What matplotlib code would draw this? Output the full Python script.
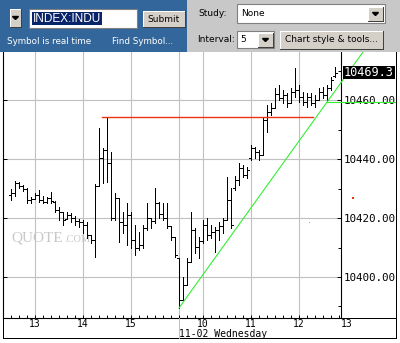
import matplotlib
matplotlib.use("Agg")
import matplotlib.pyplot as plt
from matplotlib.patches import Rectangle, Polygon
from matplotlib.lines import Line2D
import numpy as np

W, H = 400, 343

# 5-minute OHLC bars, 11-01 from 12:30 to 16:00
prev_open = [10427.8, 10428.5, 10431.9, 10430.8, 10429.8, 10426.1, 10426.4, 10427.8, 10426.1, 10425.4,
             10426.8, 10425.4, 10422.7, 10422.0, 10419.7, 10421.0, 10420.0, 10419.0, 10418.6, 10417.6,
             10414.2, 10412.6, 10430.8, 10440.3, 10443.0, 10438.6, 10420.0, 10426.8, 10418.6, 10417.6,
             10421.0, 10412.6, 10409.8, 10410.8, 10416.6, 10420.0, 10419.0, 10425.1, 10421.4, 10420.0,
             10417.3, 10413.6]
prev_high = [10429.8, 10432.5, 10432.2, 10431.2, 10430.2, 10427.1, 10428.5, 10429.5, 10427.5, 10427.1,
             10428.8, 10425.8, 10423.7, 10422.0, 10422.0, 10421.7, 10420.7, 10419.7, 10419.3, 10418.6,
             10414.2, 10431.5, 10450.5, 10443.7, 10454.2, 10442.4, 10428.5, 10426.8, 10422.0, 10425.1,
             10422.0, 10417.6, 10415.2, 10417.6, 10425.1, 10420.0, 10430.2, 10425.4, 10425.1, 10425.1,
             10417.3, 10413.6]
prev_low = [10426.1, 10427.5, 10430.2, 10429.2, 10425.1, 10425.1, 10426.4, 10425.4, 10425.1, 10425.1,
            10425.1, 10422.0, 10419.3, 10417.6, 10419.7, 10418.6, 10417.6, 10416.9, 10414.9, 10413.2,
            10411.5, 10406.8, 10430.8, 10431.9, 10432.2, 10419.3, 10419.3, 10411.9, 10414.9, 10410.8,
            10409.8, 10407.5, 10409.2, 10409.8, 10415.9, 10416.6, 10418.3, 10420.0, 10419.3, 10416.6,
            10412.6, 10406.8]
prev_close = [10428.5, 10431.9, 10430.8, 10429.8, 10426.1, 10426.4, 10427.8, 10426.1, 10425.4, 10426.8,
              10425.8, 10422.7, 10422.0, 10419.3, 10421.0, 10420.0, 10419.0, 10418.6, 10417.6, 10414.2,
              10412.6, 10430.8, 10440.3, 10443.0, 10438.6, 10420.0, 10426.8, 10418.6, 10417.6, 10421.0,
              10412.6, 10409.8, 10410.8, 10416.6, 10420.0, 10419.0, 10425.1, 10421.4, 10420.0, 10417.3,
              10413.6, 10407.5]

# 5-minute OHLC bars, 11-02 from 9:30
day_open = [10406.4, 10392.1, 10397.3, 10405.1, 10415.9, 10410.2, 10412.2, 10417.6, 10414.2, 10415.2,
            10415.9, 10417.3, 10419.3, 10426.1, 10430.2, 10432.9, 10437.0, 10434.6, 10440.3, 10443.7,
            10442.4, 10441.4, 10453.2, 10455.9, 10457.3, 10462.0, 10460.7, 10461.7, 10459.0, 10462.7,
            10463.4, 10461.0, 10459.3, 10461.0, 10459.0, 10460.0, 10462.7, 10461.7, 10464.1, 10468.1]
day_high = [10406.4, 10400.0, 10406.4, 10422.0, 10416.6, 10413.6, 10419.3, 10420.0, 10417.6, 10416.9,
            10418.6, 10420.0, 10433.9, 10430.2, 10434.2, 10438.6, 10438.0, 10437.3, 10444.7, 10444.1,
            10443.0, 10454.2, 10458.3, 10459.0, 10464.1, 10465.1, 10463.4, 10462.4, 10464.1, 10470.8,
            10465.1, 10462.7, 10462.4, 10462.4, 10461.7, 10464.1, 10464.4, 10465.1, 10467.8, 10471.2]
day_low = [10389.5, 10392.1, 10397.3, 10405.1, 10408.1, 10406.4, 10411.5, 10412.6, 10413.2, 10408.5,
           10412.6, 10414.9, 10419.3, 10416.6, 10429.5, 10431.2, 10433.9, 10433.6, 10439.7, 10440.3,
           10439.7, 10441.4, 10449.2, 10454.9, 10457.3, 10460.0, 10459.0, 10457.6, 10459.0, 10461.0,
           10459.3, 10458.3, 10457.6, 10458.3, 10457.6, 10460.0, 10460.7, 10459.3, 10463.4, 10467.8]
day_close = [10392.1, 10397.3, 10405.1, 10415.9, 10410.2, 10412.2, 10417.6, 10414.2, 10415.2, 10415.9,
             10417.3, 10419.3, 10426.1, 10417.6, 10432.9, 10437.0, 10434.6, 10436.3, 10443.7, 10442.4,
             10441.4, 10453.2, 10455.9, 10457.3, 10462.0, 10460.7, 10461.7, 10459.0, 10462.7, 10463.4,
             10461.0, 10459.3, 10461.0, 10459.0, 10460.0, 10462.7, 10461.7, 10464.1, 10466.8, 10469.3]

last_price = 10469.3
resistance = 10454.3                  # red line, from the 14:15 spike high
resistance_span = (7.896, 12.29)      # 11-01 14:24 -> 11-02 12:17 on the session axis
trend_from = (9.5, 10389.5)           # green trend line through the open low
trend_to = (12.583, 10459.3)          # ...and the 12:35 low
support = 10459.3

hour_ticks = [6.5, 7.5, 8.5, 10, 11, 12]
hour_labels = ["13", "14", "15", "10", "11", "12"]
price_ticks = [10400, 10420, 10440, 10460]

# session axis: 11-01 16:00 joins 11-02 9:30, so shift yesterday by 6.5 h
prev_t = 12.5 - 6.5 + np.arange(len(prev_open)) / 12
day_t = 9.5 + np.arange(len(day_open)) / 12


def fx(x):
    return x / W


def fy(y):
    return 1 - y / H


fig = plt.figure(figsize=(W / 100, H / 100), dpi=100)
fig.patch.set_facecolor("white")


def box(x0, y0, x1, y1, fc, ec=None, lw=0.0, z=1):
    fig.patches.append(Rectangle((fx(x0), fy(y1)), fx(x1 - x0), (y1 - y0) / H,
                                 transform=fig.transFigure, facecolor=fc,
                                 edgecolor=ec if ec else fc, linewidth=lw, zorder=z))


def fline(xs, ys, color, lw=0.72, z=3):
    fig.lines.append(Line2D([fx(x) for x in xs], [fy(y) for y in ys], transform=fig.transFigure,
                            color=color, linewidth=lw, zorder=z, antialiased=False))


def ftext(x, y, s, size=7, color="black", ha="left", family="DejaVu Sans", z=5, **kw):
    fig.text(fx(x), fy(y), s, fontsize=size, color=color, ha=ha, va="center",
             family=family, zorder=z, **kw)


def button(x0, y0, x1, y1):
    box(x0, y0, x1, y1, "#d4d0c8", z=2)
    fline([x0, x1], [y0, y0], "white", z=3)
    fline([x0, x0], [y0, y1], "white", z=3)
    fline([x0, x1], [y1, y1], "#404040", z=3)
    fline([x1, x1], [y0, y1], "#404040", z=3)


def arrow(cx, cy):
    fig.patches.append(Polygon([(fx(cx - 3), fy(cy - 1.5)), (fx(cx + 3), fy(cy - 1.5)), (fx(cx), fy(cy + 1.5))],
                               closed=True, transform=fig.transFigure, color="black", zorder=4))


# top control panel
box(0, 0, 187, 52, "#33669a")
box(187, 0, W, 52, "#c8c8c8")

button(10, 9, 21, 27)
arrow(15.5, 18)
box(29, 9, 137, 28, "white", "#808080", 0.8, z=2)
box(32, 12, 102, 25, "#0a246a", z=3)
ftext(33, 18.5, "INDEX:INDU", size=8.5, color="white", family="Liberation Sans")
button(143, 11, 185, 27)
ftext(164, 19, "Submit", size=6.5, ha="center")
ftext(7, 41, "Symbol is real time", size=6.3, color="white")
ftext(112, 41, "Find Symbol...", size=6.3, color="white")

ftext(198, 13, "Study:", size=6.5)
box(237, 4, 385, 23, "white", "#808080", 0.8, z=2)
ftext(241, 14, "None", size=6.5)
button(368, 7, 383, 21)
arrow(375.5, 14)

ftext(197, 40, "Interval:", size=6.5)
box(237, 31, 274, 48, "white", "#808080", 0.8, z=2)
ftext(240, 40, "5", size=6.5)
button(258, 33, 273, 47)
arrow(265.5, 40)
button(280, 31, 383, 49)
ftext(331.5, 40, "Chart style & tools...", size=6.5, ha="center")

# price chart
ax = fig.add_axes([fx(3), fy(318), fx(338), 266 / H])
ax.set_xlim(5.833, 12.875)
ax.set_ylim(10386.1, 10476.3)
ax.set_facecolor("white")

for t in hour_ticks + [9.5]:
    ax.axvline(t, color="#c0c0c0", lw=0.8, zorder=1)
for p in price_ticks:
    ax.axhline(p, color="#c0c0c0", lw=0.8, zorder=1)

tw = 1.6 / 48
for t, o, h, l, c in [(prev_t, prev_open, prev_high, prev_low, prev_close),
                      (day_t, day_open, day_high, day_low, day_close)]:
    ax.vlines(t, l, h, color="black", lw=0.72, zorder=3, antialiased=False)
    ax.hlines(o, t - tw, t, color="black", lw=0.72, zorder=3, antialiased=False)
    ax.hlines(c, t, t + tw, color="black", lw=0.72, zorder=3, antialiased=False)

# drawn studies
ax.plot(resistance_span, [resistance, resistance], color="#ee3311", lw=1.0, zorder=4)
slope = (trend_to[1] - trend_from[1]) / (trend_to[0] - trend_from[0])
top = ax.get_ylim()[1]
ax.plot([trend_from[0], trend_from[0] + (top - trend_from[1]) / slope], [trend_from[1], top],
        color="#33ee33", lw=0.8, zorder=4, clip_on=False)
ax.plot([trend_to[0], 14.0], [support, support], color="#33ee33", lw=0.8, zorder=4, clip_on=False)

# watermark
ax.text(6.0, 10413.2, "QUOTE", fontsize=11, color="#c8c8c8", family="Liberation Serif",
        va="center", ha="left", zorder=2)
ax.text(7.1, 10412.6, ".COM", fontsize=7.5, color="#c8c8c8", family="Liberation Serif",
        va="center", ha="left", zorder=2)

ax.spines["top"].set_visible(False)
for side in ["left", "right", "bottom"]:
    ax.spines[side].set_linewidth(0.8)
    ax.spines[side].set_color("black")

ax.set_xticks(hour_ticks)
ax.set_xticklabels(hour_labels, family="DejaVu Sans Mono", fontsize=7)
ax.set_xticks(np.arange(5.833, 12.875, 1 / 6), minor=True)
ax.tick_params(axis="x", which="major", length=0, pad=1)
ax.tick_params(axis="x", which="minor", direction="in", length=2, width=0.7)

ax.set_yticks(price_ticks)
ax.set_yticklabels([f"{p:.2f}" for p in price_ticks], family="DejaVu Sans Mono", fontsize=7.8)
ax.set_yticks([10390, 10410, 10430, 10450, 10470], minor=True)
ax.tick_params(axis="y", which="major", left=True, right=True, labelleft=False, labelright=True,
               direction="in", length=3, width=0.7, pad=2)
ax.tick_params(axis="y", which="minor", left=False, right=True, direction="in", length=2, width=0.7)

ftext(347, 324, "13", size=7, ha="center", family="DejaVu Sans Mono")
ftext(179, 334, "11-02 Wednesday", size=7, family="DejaVu Sans Mono")

# frame around chart and axis strip
fline([3, 3], [318, 338], "black")
fline([3, 396], [338, 338], "black")
fline([341, 396], [318, 318], "black")
fline([396, 396], [52, 338], "black")
fline([179, 179], [318, 338], "#c0c0c0")

# last price flag
box(343, 66, 395, 79, "black", z=6)
ftext(344, 72.8, f"{last_price:.1f}", size=8.6, color="white", family="DejaVu Sans Mono", z=7)

# stray marks left on the chart
box(352, 197, 354, 198.5, "#ee3311", z=6)
box(309, 221.5, 310, 222.5, "#33ee33", z=6)

fig.savefig("out.png", dpi=100)
